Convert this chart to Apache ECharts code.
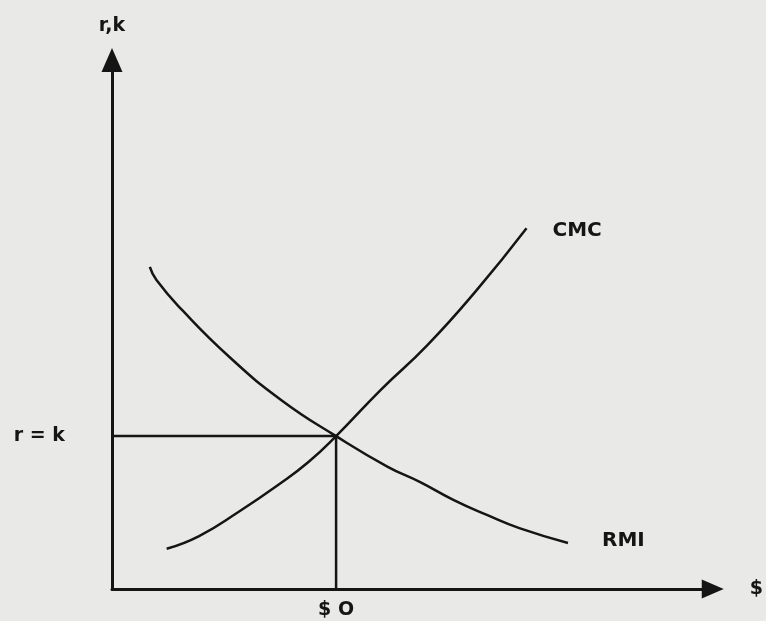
<!DOCTYPE html>
<html>
<head>
<meta charset="utf-8">
<title>CMC y RMI</title>
<script src="https://cdn.jsdelivr.net/npm/echarts@6/dist/echarts.min.js"></script>
<style>
  html, body { margin: 0; padding: 0; background: #e9e9e7; }
  #chart { width: 766px; height: 621px; }
</style>
</head>
<body>
<div id="chart"></div>
<script>
// puntos (unidades arbitrarias 0-100)
var cmcX = [9.1, 14.5, 21.1, 27.7, 32.7, 37.3, 44.7, 52.5, 60.7, 69.0];
var cmcY = [7.6, 10.0, 14.6, 19.7, 24.0, 28.9, 37.6, 46.1, 56.5, 68.2];
var rmiX = [6.3, 7.4, 11.7, 19.5, 28.2, 37.3, 45.9, 51.3, 56.9, 62.4, 67.8, 75.9];
var rmiY = [60.9, 58.4, 52.7, 43.9, 35.7, 28.9, 23.1, 20.2, 16.8, 14.0, 11.5, 8.7];

// equilibrio r = k
var eqX = 37.3;
var eqY = 28.9;
var xTickLabels = ["$ O"];
var yTickLabels = ["r = k"];

var ink = "#151515";
var font = "DejaVu Sans";

function pairs(xs, ys) {
  return xs.map(function (x, i) { return [x, ys[i]]; });
}

var chart = echarts.init(document.getElementById("chart"));
chart.setOption({
  animation: false,
  backgroundColor: "#e9e9e7",
  grid: {
    left: 112,
    top: 60,
    width: 606,
    height: 529
  },
  xAxis: {
    type: "value",
    min: 0,
    max: 100,
    name: "$",
    nameLocation: "end",
    nameGap: 37,
    nameTextStyle: { color: ink, fontFamily: font, fontWeight: "bold", fontSize: 19, padding: [10, 0, 0, 0] },
    axisLine: {
      show: true,
      symbol: ["none", "triangle"],
      symbolSize: [19, 22],
      lineStyle: { color: ink, width: 3 }
    },
    axisTick: { show: false },
    splitLine: { show: false },
    axisLabel: {
      customValues: [eqX],
      margin: 12,
      color: ink,
      fontFamily: font,
      fontWeight: "bold",
      fontSize: 19,
      formatter: function () { return xTickLabels[0]; }
    }
  },
  yAxis: {
    type: "value",
    min: 0,
    max: 100,
    name: "r,k",
    nameLocation: "end",
    nameGap: 24,
    nameTextStyle: { color: ink, fontFamily: font, fontWeight: "bold", fontSize: 19 },
    axisLine: {
      show: true,
      symbol: ["none", "triangle"],
      symbolSize: [21, 24],
      lineStyle: { color: ink, width: 3 }
    },
    axisTick: { show: false },
    splitLine: { show: false },
    axisLabel: {
      customValues: [eqY],
      margin: 47,
      padding: [8, 0, 0, 0],
      color: ink,
      fontFamily: font,
      fontWeight: "bold",
      fontSize: 19,
      formatter: function () { return yTickLabels[0]; }
    }
  },
  series: [
    {
      name: "CMC",
      type: "line",
      data: pairs(cmcX, cmcY),
      smooth: 0.5,
      showSymbol: false,
      lineStyle: { color: ink, width: 2.5 },
      endLabel: {
        show: true,
        formatter: "{a}",
        distance: 26,
        offset: [0, 3],
        color: ink,
        fontFamily: font,
        fontWeight: "bold",
        fontSize: 20
      }
    },
    {
      name: "RMI",
      type: "line",
      data: pairs(rmiX, rmiY),
      smooth: 0.5,
      showSymbol: false,
      lineStyle: { color: ink, width: 2.5 },
      endLabel: {
        show: true,
        formatter: "{a}",
        distance: 34,
        offset: [0, -2],
        color: ink,
        fontFamily: font,
        fontWeight: "bold",
        fontSize: 20
      }
    },
    {
      name: "eq",
      type: "line",
      data: [[0, eqY], [eqX, eqY], [eqX, 0]],
      showSymbol: false,
      lineStyle: { color: ink, width: 2.5 }
    }
  ]
});
</script>
</body>
</html>
